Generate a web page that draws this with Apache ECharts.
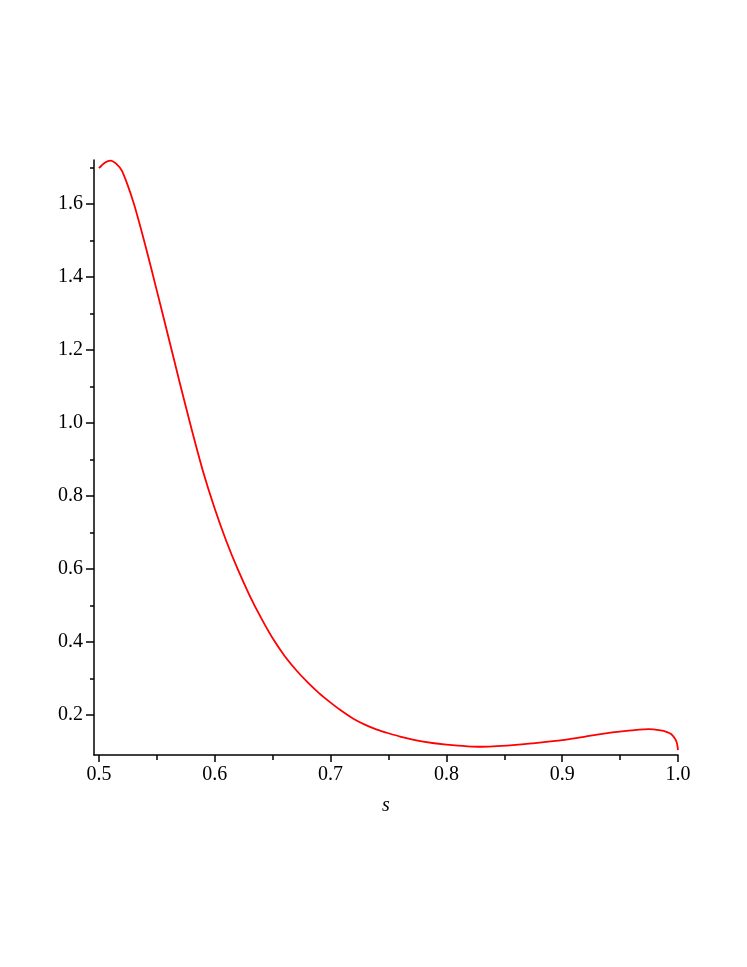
<!DOCTYPE html>
<html>
<head>
<meta charset="utf-8">
<script src="https://cdn.jsdelivr.net/npm/echarts@6/dist/echarts.min.js"></script>
<style>html,body{margin:0;padding:0;background:#fff;}#c{width:747px;height:967px;}</style>
</head>
<body>
<div id="c"></div>
<script>
var sValues = [0.5, 0.505, 0.51, 0.515, 0.52, 0.53, 0.54, 0.55, 0.56, 0.57, 0.58, 0.59, 0.60, 0.61, 0.62, 0.63, 0.64, 0.65, 0.66, 0.67, 0.68, 0.69, 0.70, 0.71, 0.72, 0.73, 0.74, 0.75, 0.76, 0.78, 0.80, 0.83, 0.86, 0.875, 0.90, 0.92, 0.945, 0.96, 0.975, 0.985, 0.990, 0.994, 0.997, 0.999, 1.0];
var yValues = [1.698, 1.713, 1.719, 1.710, 1.690, 1.602, 1.487, 1.362, 1.235, 1.107, 0.983, 0.866, 0.765, 0.676, 0.598, 0.528, 0.466, 0.410, 0.363, 0.324, 0.290, 0.260, 0.234, 0.210, 0.189, 0.173, 0.160, 0.150, 0.141, 0.127, 0.119, 0.113, 0.118, 0.1225, 0.131, 0.141, 0.153, 0.158, 0.1615, 0.158, 0.154, 0.148, 0.137, 0.124, 0.104];
var xMajorTicks = [0.5, 0.6, 0.7, 0.8, 0.9, 1.0];
var xMinorTicks = [0.55, 0.65, 0.75, 0.85, 0.95];
var yMajorTicks = [0.2, 0.4, 0.6, 0.8, 1.0, 1.2, 1.4, 1.6];
var yMinorTicks = [0.3, 0.5, 0.7, 0.9, 1.1, 1.3, 1.5, 1.7];
var xName = 's';

var data = sValues.map(function (s, i) { return [s, yValues[i]]; });
var font = '"Liberation Serif", "Times New Roman", serif';
var xMin = 0.4957, xMax = 1.0, yMin = 0.0904, yMax = 1.7205;

var chart = echarts.init(document.getElementById('c'), null, {renderer: 'canvas'});
chart.setOption({
  animation: false,
  backgroundColor: '#fff',
  grid: {left: 94, right: 69, top: 160, bottom: 212, containLabel: false},
  xAxis: [{
    type: 'value', min: xMin, max: xMax, position: 'bottom',
    name: xName, nameLocation: 'middle', nameGap: 41,
    nameTextStyle: {fontFamily: font, fontStyle: 'italic', fontSize: 20, color: '#000'},
    axisLine: {show: true, onZero: false, lineStyle: {color: '#000', width: 1.5}},
    axisTick: {show: true, length: 7, customValues: xMajorTicks, lineStyle: {color: '#000', width: 1.5}},
    axisLabel: {show: true, customValues: xMajorTicks, margin: 10, fontFamily: font, fontSize: 20, color: '#000',
      formatter: function (v) { return v.toFixed(1); }},
    splitLine: {show: false}
  }, {
    type: 'value', min: xMin, max: xMax, position: 'bottom',
    axisLine: {show: false, onZero: false},
    axisTick: {show: true, length: 5, customValues: xMinorTicks, lineStyle: {color: '#000', width: 1.5}},
    axisLabel: {show: false},
    splitLine: {show: false}
  }],
  yAxis: [{
    type: 'value', min: yMin, max: yMax, position: 'left',
    axisLine: {show: true, onZero: false, lineStyle: {color: '#000', width: 1.5}},
    axisTick: {show: true, length: 8, customValues: yMajorTicks, lineStyle: {color: '#000', width: 1.5}},
    axisLabel: {show: true, customValues: yMajorTicks, margin: 11, fontFamily: font, fontSize: 20, color: '#000',
      formatter: function (v) { return v.toFixed(1); }},
    splitLine: {show: false}
  }, {
    type: 'value', min: yMin, max: yMax, position: 'left',
    axisLine: {show: false, onZero: false},
    axisTick: {show: true, length: 4, customValues: yMinorTicks, lineStyle: {color: '#000', width: 1.5}},
    axisLabel: {show: false},
    splitLine: {show: false}
  }],
  series: [{
    type: 'line', xAxisIndex: 0, yAxisIndex: 0,
    data: data, smooth: 0.25, showSymbol: false, symbol: 'none',
    lineStyle: {color: '#ff0000', width: 1.8}
  }]
});
</script>
</body>
</html>
